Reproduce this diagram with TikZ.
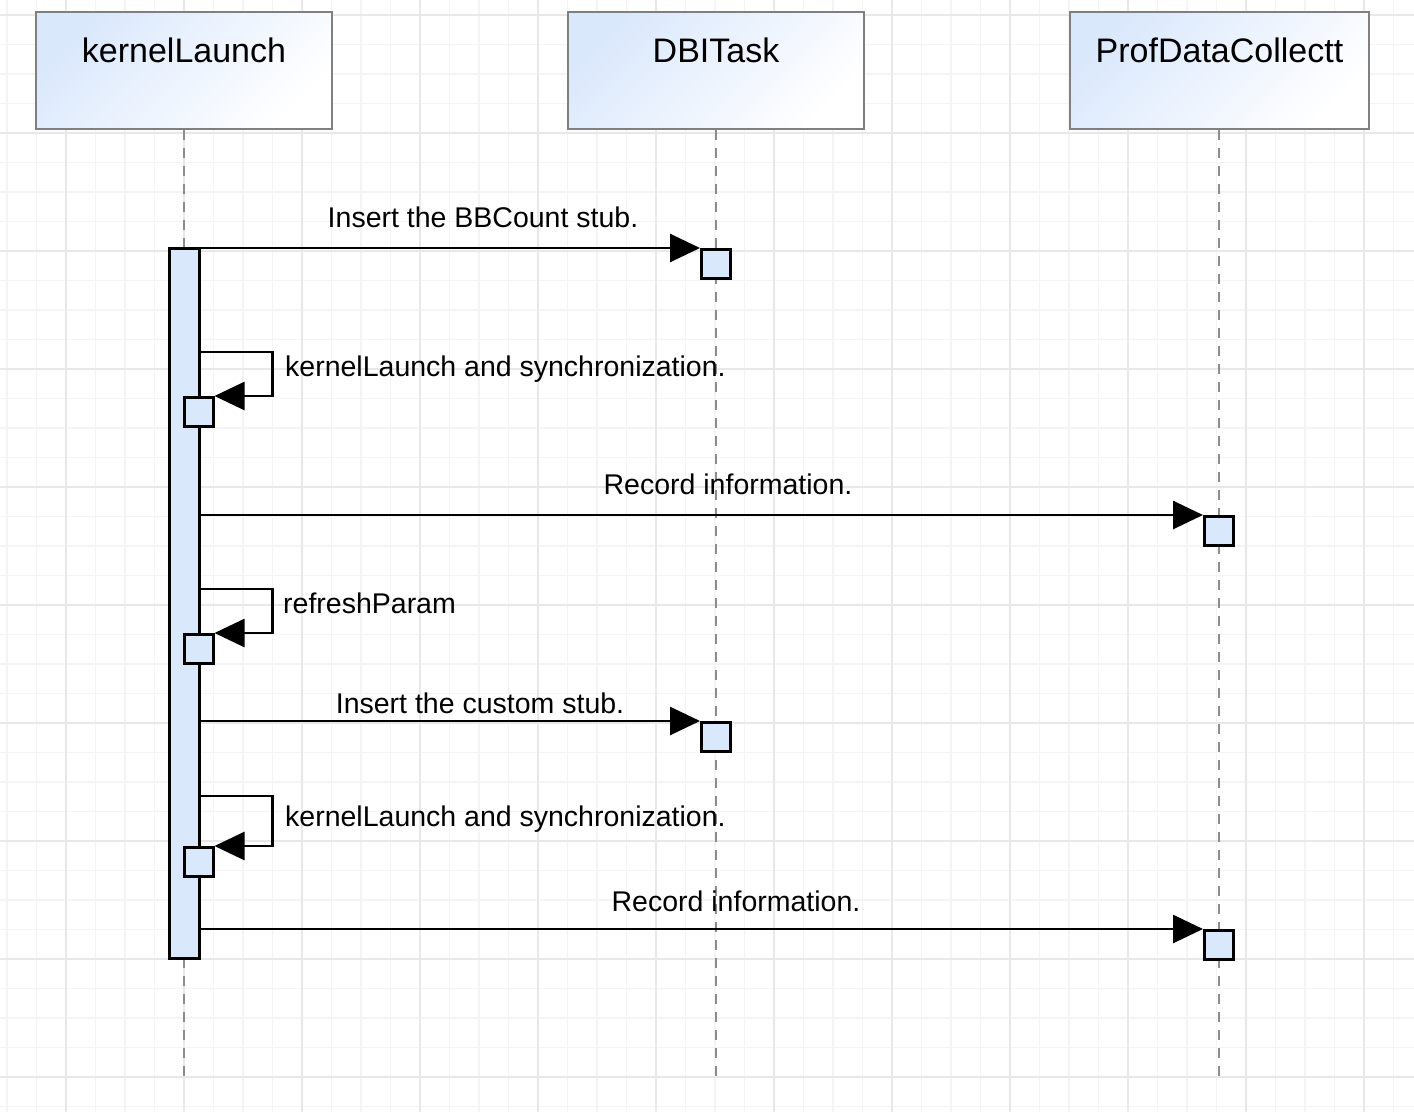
\documentclass[tikz,border=0pt]{standalone}
\usepackage{fontspec}
\setmainfont{Liberation Sans}
\usetikzlibrary{arrows.meta,positioning,calc}

\definecolor{lanefill}{HTML}{DAE8FC}
\definecolor{gridminor}{HTML}{F4F4F4}
\definecolor{gridmajor}{HTML}{E8E8E8}

\begin{document}
\begin{tikzpicture}[
    x=1pt, y=1pt,
    head/.style={draw=black!50, line width=2pt, left color=lanefill, right color=white, shading angle=45,
                 minimum width=296pt, minimum height=117pt, text height=25pt, text depth=42pt,
                 font=\fontsize{34}{40}\selectfont},
    lifeline/.style={draw=black!45, line width=2pt, dash pattern=on 10pt off 8pt},
    actbar/.style={draw, line width=3pt, fill=lanefill, minimum width=30pt, minimum height=710pt, inner sep=0pt},
    actbox/.style={draw, line width=3pt, fill=lanefill, minimum size=29pt, inner sep=0pt, anchor=north},
    msg/.style={line width=2.7pt, -{Triangle[length=30pt, width=28pt]}},
    msglabel/.style={anchor=base, font=\fontsize{28.5}{34}\selectfont, inner sep=0pt},
    selflabel/.style={msglabel, anchor=base west}
]
\useasboundingbox (0,0) rectangle (1414,-1112);
\fill[white] (0,0) rectangle (1414,-1112);

% background grid
\begin{scope}[shift={(66,-15)}]
\draw[gridminor, line width=1.5pt] (-66,-1097) grid[step=29.5] (1348,15);
\draw[gridmajor, line width=2pt] (-66,-1097) grid[step=118] (1348,15);
\end{scope}

% participants
\node[head] (kernel) at (184,-70.5) {kernelLaunch};
\node[head] (dbi) at (716,-70.5) {DBITask};
\node[head, minimum width=299pt] (prof) at (1219.5,-70.5) {ProfDataCollectt};

\coordinate (kernelend) at (184,-1078);
\coordinate (dbiend) at (716,-1078);
\coordinate (profend) at (1219,-1078);

\draw[lifeline] (kernel.south) -- (kernelend);
\draw[lifeline] (dbi.south) -- (dbiend);
\draw[lifeline] ([xshift=-0.5pt]prof.south) -- (profend);

% activations
\node[actbar] (bar) at (184,-603) {};
\node[actbox] (ins1) at (716,-248) {};
\node[actbox] (self1) at (198.5,-396) {};
\node[actbox] (rec1) at (1219,-515) {};
\node[actbox] (self2) at (198.5,-633) {};
\node[actbox] (ins2) at (716,-721) {};
\node[actbox] (self3) at (198.5,-846) {};
\node[actbox] (rec2) at (1219,-929) {};

% messages
\draw[msg] (bar.east |- ins1.north) -- (ins1.north west);
\draw[msg] ($(self1.north -| bar.east)+(0,44)$) -- ++(72,0) |- (self1.north east);
\draw[msg] (bar.east |- rec1.north) -- (rec1.north west);
\draw[msg] ($(self2.north -| bar.east)+(0,44)$) -- ++(72,0) |- (self2.north east);
\draw[msg] (bar.east |- ins2.north) -- (ins2.north west);
\draw[msg] ($(self3.north -| bar.east)+(0,50)$) -- ++(72,0) |- (self3.north east);
\draw[msg] (bar.east |- rec2.north) -- (rec2.north west);

% labels
\node[msglabel] (lbl1) at (483,-227) {Insert the BBCount stub.};
\node[selflabel] (lbl2) at (285,-376) {kernelLaunch and synchronization.};
\node[msglabel] (lbl3) at (728,-494) {Record information.};
\node[selflabel] (lbl4) at (283,-613) {refreshParam};
\node[msglabel] (lbl5) at (480,-713) {Insert the custom stub.};
\node[selflabel] (lbl6) at (285,-826) {kernelLaunch and synchronization.};
\node[msglabel] (lbl7) at (736,-911) {Record information.};
\end{tikzpicture}
\end{document}
